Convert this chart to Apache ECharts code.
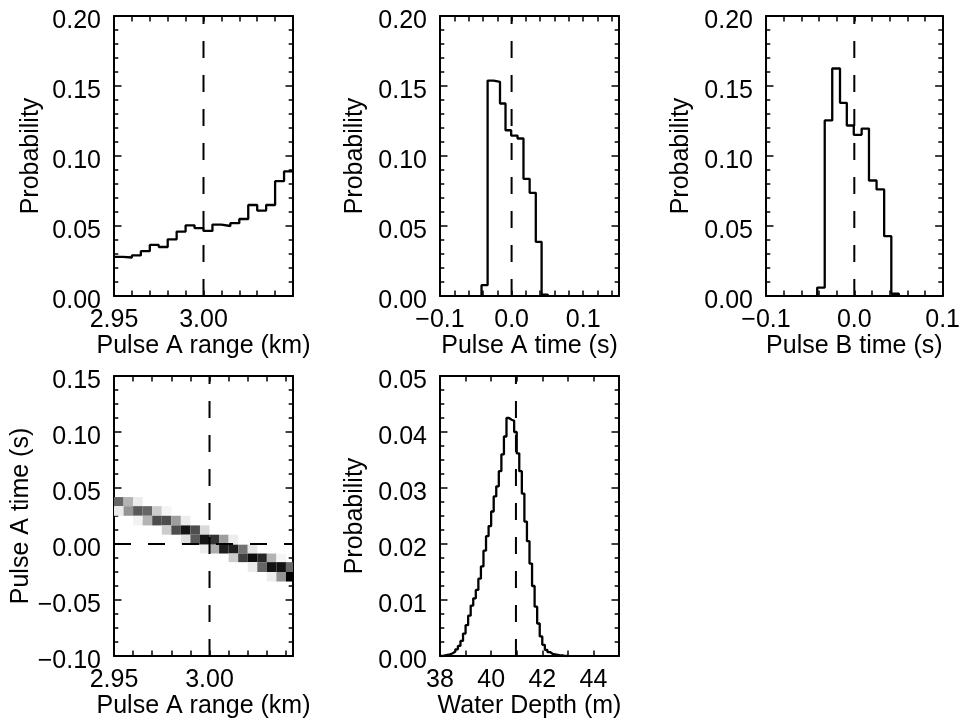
<!DOCTYPE html>
<html><head><meta charset="utf-8">
<script src="https://cdn.jsdelivr.net/npm/echarts@6/dist/echarts.min.js"></script>
<style>html,body{margin:0;padding:0;background:#fff}#c{width:963px;height:723px}</style>
</head><body><div id="c"></div>
<script>
// ---------- data ----------
const rangeEdges = [2.950, 2.955, 2.960, 2.965, 2.970, 2.975, 2.980, 2.985, 2.990, 2.995, 3.000,
                    3.005, 3.010, 3.015, 3.020, 3.025, 3.030, 3.035, 3.040, 3.045, 3.050];
const rangeProb = [0.028, 0.0275, 0.029, 0.032, 0.0365, 0.035, 0.0405, 0.046, 0.0505, 0.0485,
                   0.0465, 0.051, 0.050, 0.052, 0.055, 0.065, 0.061, 0.065, 0.082, 0.089];

const timeEdges = [-0.042, -0.0335, -0.025, -0.0162, -0.0085, -0.0006, 0.0083, 0.0166, 0.0252, 0.0338, 0.0419, 0.0505];
const timeAProb = [0.0077, 0.1539, 0.153, 0.1375, 0.1184, 0.1146, 0.1125, 0.0837, 0.0737, 0.0387, 0.001];
const timeBProb = [0.006, 0.1254, 0.1625, 0.138, 0.1218, 0.1151, 0.1196, 0.0825, 0.0761, 0.0427, 0.0016];

const depthEdges = [38.0, 38.1, 38.2, 38.3, 38.4, 38.5, 38.6, 38.7, 38.8, 38.9,
                    39.0, 39.1, 39.2, 39.3, 39.4, 39.5, 39.6, 39.7, 39.8, 39.9,
                    40.0, 40.1, 40.2, 40.3, 40.4, 40.5, 40.6, 40.7, 40.8, 40.9,
                    41.0, 41.1, 41.2, 41.3, 41.4, 41.5, 41.6, 41.7, 41.8, 41.9,
                    42.0, 42.1, 42.2, 42.3, 42.4, 42.5, 42.6, 42.7, 42.8, 42.9, 43.0];
const depthProb = [0.0000, 0.0001, 0.0002, 0.0003, 0.0005, 0.0008, 0.0012, 0.0018, 0.0027, 0.0040,
                   0.0055, 0.0072, 0.0090, 0.0103, 0.0118, 0.0138, 0.0160, 0.0188, 0.0214, 0.0232,
                   0.0258, 0.0285, 0.0303, 0.0330, 0.0360, 0.0392, 0.0425, 0.0422, 0.0420, 0.0400,
                   0.0362, 0.0330, 0.0290, 0.0240, 0.0205, 0.0165, 0.0125, 0.0088, 0.0058, 0.0035,
                   0.0020, 0.0011, 0.0007, 0.0004, 0.0003, 0.0002, 0.0001, 0.0001, 0.0000, 0.0000];

// joint histogram: [range bin index, time bin index, darkness 0..1]
const jointCells = [
  [0,9,0.6],[1,9,0.3],[2,9,0.08],
  [0,8,0.08],[1,8,0.42],[2,8,0.65],[3,8,0.6],[4,8,0.2],[5,8,0.04],
  [2,7,0.05],[3,7,0.3],[4,7,0.7],[5,7,0.7],[6,7,0.38],[7,7,0.07],
  [5,6,0.2],[6,6,0.7],[7,6,0.92],[8,6,0.7],[9,6,0.15],
  [7,5,0.12],[8,5,0.65],[9,5,0.92],[10,5,0.8],[11,5,0.38],[12,5,0.07],
  [9,4,0.07],[10,4,0.32],[11,4,0.88],[12,4,0.88],[13,4,0.55],[14,4,0.1],
  [12,3,0.2],[13,3,0.75],[14,3,0.95],[15,3,0.85],[16,3,0.3],[17,3,0.04],
  [14,2,0.08],[15,2,0.6],[16,2,0.93],[17,2,0.93],[18,2,0.6],
  [16,1,0.07],[17,1,0.42],[18,1,1.0]
];

const trueRange = 3.00, trueTimeA = 0.0, trueTimeB = 0.0, trueDepth = 40.97;

// tick labels
const rangeTickVals = [2.95, 3.00], rangeTickLabels = ['2.95', '3.00'];
const timeTickVals = [-0.1, 0.0, 0.1], timeTickLabels = ['\u22120.1', '0.0', '0.1'];
const depthTickVals = [38, 40, 42, 44], depthTickLabels = ['38', '40', '42', '44'];
const probTickVals = [0, 0.05, 0.10, 0.15, 0.20], probTickLabels = ['0.00', '0.05', '0.10', '0.15', '0.20'];
const jtTickVals = [-0.10, -0.05, 0, 0.05, 0.10, 0.15], jtTickLabels = ['\u22120.10', '\u22120.05', '0.00', '0.05', '0.10', '0.15'];
const dpTickVals = [0, 0.01, 0.02, 0.03, 0.04, 0.05], dpTickLabels = ['0.00', '0.01', '0.02', '0.03', '0.04', '0.05'];

// ---------- layout ----------
const FONT = '"Liberation Sans", Arial, Helvetica, sans-serif';
const grids = [
  {left: 114, top: 16, width: 179, height: 280},
  {left: 440, top: 16, width: 179, height: 280},
  {left: 766, top: 16, width: 178, height: 280},
  {left: 114, top: 376, width: 179, height: 280},
  {left: 440, top: 376, width: 179, height: 280}
];

function labeler(vals, labels) {
  return function (v) {
    for (let i = 0; i < vals.length; i++) if (Math.abs(v - vals[i]) < 1e-7) return labels[i];
    return '';
  };
}

const xSpec = [
  {min: 2.95, max: 3.05, interval: 0.01, f: labeler(rangeTickVals, rangeTickLabels), name: 'Pulse A range (km)'},
  {min: -0.1, max: 0.15, interval: 0.02, f: labeler(timeTickVals, timeTickLabels), name: 'Pulse A time (s)'},
  {min: -0.1, max: 0.1, interval: 0.02, f: labeler(timeTickVals, timeTickLabels), name: 'Pulse B time (s)'},
  {min: 2.95, max: 3.0437, interval: 0.01, f: labeler(rangeTickVals, rangeTickLabels), name: 'Pulse A range (km)'},
  {min: 38, max: 45, interval: 1, f: labeler(depthTickVals, depthTickLabels), name: 'Water Depth (m)'}
];
const ySpec = [
  {min: 0, max: 0.2, interval: 0.05, minor: 5, f: labeler(probTickVals, probTickLabels), name: 'Probability', gap: 70},
  {min: 0, max: 0.2, interval: 0.05, minor: 5, f: labeler(probTickVals, probTickLabels), name: 'Probability', gap: 72},
  {min: 0, max: 0.2, interval: 0.05, minor: 5, f: labeler(probTickVals, probTickLabels), name: 'Probability', gap: 72},
  {min: -0.1, max: 0.15, interval: 0.05, minor: 4, f: labeler(jtTickVals, jtTickLabels), name: 'Pulse A time (s)', gap: 79},
  {min: 0, max: 0.05, interval: 0.01, minor: 4, f: labeler(dpTickVals, dpTickLabels), name: 'Probability', gap: 72}
];

const lineAx = {show: true, onZero: false, lineStyle: {color: '#000', width: 2}};
const xAxes = [], yAxes = [];
xSpec.forEach((s, i) => {
  const base = {type: 'value', gridIndex: i, min: s.min, max: s.max, interval: s.interval,
    axisLine: lineAx, splitLine: {show: false},
    axisTick: {show: true, inside: true, length: 5.5, lineStyle: {color: '#000', width: 1.5}}};
  xAxes.push(Object.assign({}, base, {position: 'bottom',
    name: s.name, nameLocation: 'middle', nameGap: 33,
    nameTextStyle: {fontSize: 25, color: '#000', fontFamily: FONT},
    axisLabel: {show: true, formatter: s.f, margin: 12, fontSize: 25, color: '#000', fontFamily: FONT,
      showMinLabel: true, showMaxLabel: true}}));
  xAxes.push(Object.assign({}, base, {position: 'top', axisLabel: {show: false}}));
});
ySpec.forEach((s, i) => {
  const base = {type: 'value', gridIndex: i, min: s.min, max: s.max, interval: s.interval,
    axisLine: lineAx, splitLine: {show: false},
    axisTick: {show: true, inside: true, length: 7.5, lineStyle: {color: '#000', width: 1.5}},
    minorTick: {show: true, splitNumber: s.minor, length: 4.3, lineStyle: {color: '#000', width: 1.5}},
    minorSplitLine: {show: false}};
  yAxes.push(Object.assign({}, base, {position: 'left',
    name: s.name, nameLocation: 'middle', nameGap: s.gap, nameRotate: 90,
    nameTextStyle: {fontSize: 25, color: '#000', fontFamily: FONT},
    axisLabel: {show: true, formatter: s.f, margin: 13, fontSize: 25, color: '#000', fontFamily: FONT,
      verticalAlign: 'top', lineHeight: 10}}));
  yAxes.push(Object.assign({}, base, {position: 'right', axisLabel: {show: false}}));
});

function stepPts(edges, vals, closed) {
  const pts = [];
  if (closed) pts.push([edges[0], 0]);
  for (let i = 0; i < vals.length; i++) {
    pts.push([edges[i], vals[i]]);
    pts.push([edges[i + 1], vals[i]]);
  }
  if (closed) pts.push([edges[edges.length - 1], 0]);
  return pts;
}

function histSeries(k, pts) {
  return {type: 'line', xAxisIndex: 2 * k, yAxisIndex: 2 * k, data: pts, symbol: 'none',
    clip: true, silent: true, lineStyle: {color: '#000', width: 2.3}, z: 3};
}
function dashSeries(k, pts) {
  return {type: 'line', xAxisIndex: 2 * k, yAxisIndex: 2 * k, data: pts, symbol: 'none',
    silent: true, lineStyle: {color: '#000', width: 2, type: [17, 17]}, z: 4};
}

const jointData = jointCells.map(c => [rangeEdges[c[0]], rangeEdges[c[0] + 1], timeEdges[c[1]], timeEdges[c[1] + 1], c[2]]);

const series = [
  histSeries(0, stepPts(rangeEdges, rangeProb, false)),
  dashSeries(0, [[trueRange, ySpec[0].min], [trueRange, ySpec[0].max]]),
  histSeries(1, stepPts(timeEdges, timeAProb, true)),
  dashSeries(1, [[trueTimeA, ySpec[1].min], [trueTimeA, ySpec[1].max]]),
  histSeries(2, stepPts(timeEdges, timeBProb, true)),
  dashSeries(2, [[trueTimeB, ySpec[2].min], [trueTimeB, ySpec[2].max]]),
  {type: 'custom', xAxisIndex: 6, yAxisIndex: 6, data: jointData, silent: true, z: 2,
    renderItem: function (params, api) {
      const p0 = api.coord([api.value(0), api.value(3)]);
      const p1 = api.coord([api.value(1), api.value(2)]);
      const cs = params.coordSys;
      const r = echarts.graphic.clipRectByRect(
        {x: p0[0], y: p0[1], width: p1[0] - p0[0], height: p1[1] - p0[1]},
        {x: cs.x, y: cs.y, width: cs.width, height: cs.height});
      if (!r) return;
      const g = Math.round(255 * (1 - api.value(4)));
      return {type: 'rect', shape: r, style: {fill: 'rgb(' + g + ',' + g + ',' + g + ')'}};
    }},
  dashSeries(3, [[trueRange, ySpec[3].min], [trueRange, ySpec[3].max]]),
  dashSeries(3, [[xSpec[3].min, trueTimeA], [xSpec[3].max, trueTimeA]]),
  histSeries(4, stepPts(depthEdges, depthProb, true)),
  dashSeries(4, [[trueDepth, ySpec[4].min], [trueDepth, ySpec[4].max]])
];

const chart = echarts.init(document.getElementById('c'), null, {renderer: 'canvas'});
chart.setOption({
  animation: false,
  backgroundColor: '#fff',
  textStyle: {fontFamily: FONT},
  grid: grids,
  xAxis: xAxes,
  yAxis: yAxes,
  series: series
});
</script>
</body></html>
